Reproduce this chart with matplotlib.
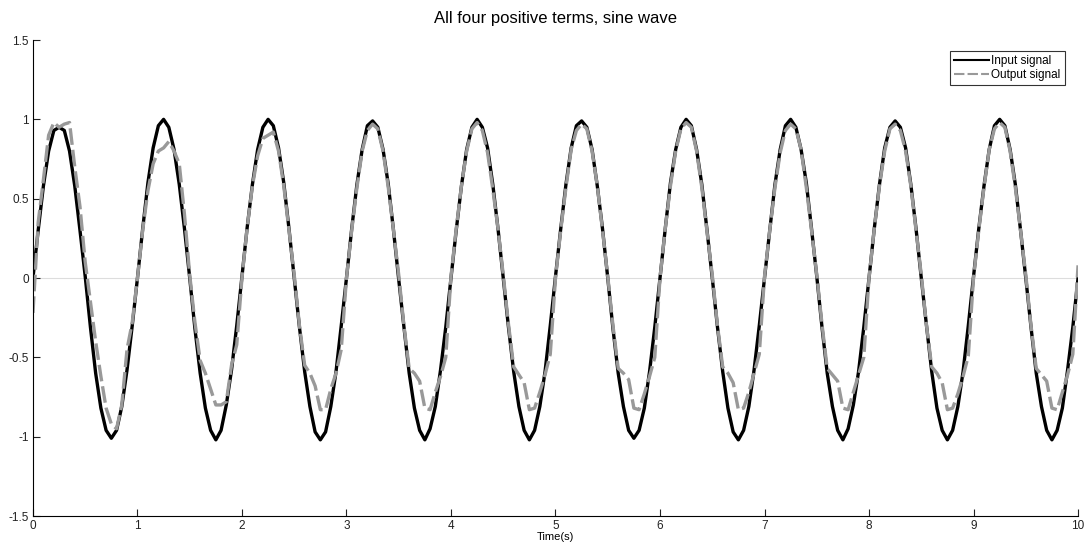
import numpy as np
import matplotlib
matplotlib.use("Agg")
import matplotlib.pyplot as plt

plt.rcParams['font.family'] = ['Liberation Sans', 'DejaVu Sans']

# sample times, 0.05 s apart (20 samples per 1 s cycle)
t = np.linspace(0, 10, 201)

# input signal, read per cycle
input_signal = [
    0.00, 0.30, 0.58, 0.80, 0.93, 0.95, 0.93, 0.80, 0.58, 0.30, 0.01, -0.31, -0.60, -0.82, -0.96, -1.01, -0.96, -0.81, -0.58, -0.30,
    0.00, 0.31, 0.60, 0.82, 0.96, 1.00, 0.95, 0.81, 0.59, 0.31, 0.00, -0.32, -0.60, -0.82, -0.96, -1.02, -0.96, -0.80, -0.58, -0.30,
    0.01, 0.32, 0.59, 0.81, 0.95, 1.00, 0.96, 0.82, 0.60, 0.31, 0.00, -0.31, -0.59, -0.81, -0.97, -1.02, -0.97, -0.81, -0.59, -0.30,
    0.00, 0.31, 0.59, 0.81, 0.96, 0.99, 0.95, 0.81, 0.59, 0.30, -0.01, -0.31, -0.60, -0.82, -0.96, -1.02, -0.95, -0.81, -0.58, -0.31,
    0.00, 0.30, 0.58, 0.81, 0.95, 1.00, 0.95, 0.82, 0.59, 0.31, 0.00, -0.31, -0.59, -0.81, -0.96, -1.02, -0.96, -0.81, -0.59, -0.30,
    0.01, 0.31, 0.59, 0.82, 0.96, 0.99, 0.95, 0.81, 0.58, 0.31, 0.00, -0.32, -0.60, -0.81, -0.96, -1.01, -0.96, -0.82, -0.59, -0.31,
    0.00, 0.31, 0.60, 0.81, 0.95, 1.00, 0.96, 0.81, 0.59, 0.30, 0.00, -0.31, -0.59, -0.82, -0.97, -1.02, -0.96, -0.81, -0.58, -0.30,
    0.00, 0.30, 0.59, 0.81, 0.96, 1.00, 0.95, 0.81, 0.60, 0.31, 0.01, -0.31, -0.60, -0.81, -0.96, -1.02, -0.95, -0.80, -0.59, -0.31,
    0.00, 0.31, 0.59, 0.82, 0.95, 0.99, 0.95, 0.82, 0.59, 0.31, 0.00, -0.30, -0.59, -0.82, -0.96, -1.02, -0.96, -0.81, -0.59, -0.30,
    0.01, 0.31, 0.58, 0.81, 0.96, 1.00, 0.96, 0.81, 0.59, 0.30, 0.00, -0.31, -0.60, -0.81, -0.96, -1.02, -0.96, -0.82, -0.58, -0.31,
    0.00,
]

# output signal, read per cycle
output_signal = [
    -0.22, 0.35, 0.62, 0.90, 0.98, 0.95, 0.97, 0.98, 0.70, 0.45, 0.10, -0.15, -0.40, -0.62, -0.82, -0.92, -0.95, -0.80, -0.45, -0.28,
    0.00, 0.30, 0.55, 0.72, 0.80, 0.82, 0.86, 0.80, 0.72, 0.40, 0.02, -0.28, -0.52, -0.60, -0.70, -0.80, -0.80, -0.78, -0.55, -0.42,
    0.00, 0.32, 0.58, 0.77, 0.88, 0.90, 0.92, 0.80, 0.58, 0.30, 0.02, -0.30, -0.55, -0.60, -0.68, -0.83, -0.83, -0.70, -0.60, -0.45,
    0.00, 0.30, 0.57, 0.80, 0.93, 0.97, 0.94, 0.80, 0.57, 0.30, 0.02, -0.30, -0.57, -0.60, -0.65, -0.82, -0.83, -0.72, -0.62, -0.50,
    0.01, 0.31, 0.58, 0.80, 0.94, 0.98, 0.93, 0.79, 0.56, 0.31, 0.02, -0.29, -0.56, -0.61, -0.66, -0.83, -0.82, -0.72, -0.61, -0.48,
    0.00, 0.30, 0.57, 0.81, 0.93, 0.97, 0.94, 0.80, 0.58, 0.30, 0.01, -0.30, -0.57, -0.60, -0.64, -0.82, -0.83, -0.73, -0.62, -0.50,
    0.00, 0.31, 0.58, 0.80, 0.94, 0.98, 0.95, 0.80, 0.57, 0.29, 0.02, -0.30, -0.56, -0.60, -0.66, -0.83, -0.82, -0.72, -0.60, -0.48,
    0.01, 0.30, 0.57, 0.79, 0.93, 0.97, 0.94, 0.81, 0.57, 0.30, 0.02, -0.29, -0.57, -0.61, -0.65, -0.82, -0.83, -0.72, -0.61, -0.50,
    0.00, 0.31, 0.58, 0.80, 0.94, 0.97, 0.93, 0.80, 0.58, 0.30, 0.02, -0.30, -0.56, -0.60, -0.66, -0.83, -0.82, -0.73, -0.62, -0.49,
    0.00, 0.30, 0.57, 0.81, 0.94, 0.98, 0.95, 0.80, 0.57, 0.30, 0.02, -0.30, -0.57, -0.61, -0.65, -0.82, -0.83, -0.72, -0.61, -0.48,
    0.08,
]

x_ticks = [0, 1, 2, 3, 4, 5, 6, 7, 8, 9, 10]
y_ticks = [-1.5, -1, -0.5, 0, 0.5, 1, 1.5]
y_tick_labels = ['-1.5', '-1', '-0.5', '0', '0.5', '1', '1.5']

fig = plt.figure(figsize=(10.84, 5.49), dpi=100)
ax = fig.add_axes([0.0304, 0.0601, 0.9641, 0.8670])

ax.axhline(0, color='#dddddd', lw=0.8, zorder=0)
ax.plot(t, input_signal, color='black', lw=2.4, label='Input signal')
ax.plot(t, output_signal, color='#999999', lw=2.4, dashes=(5, 1.5), label='Output signal')

ax.set_xlim(0, 10)
ax.set_ylim(-1.5, 1.5)
ax.set_xticks(x_ticks)
ax.set_yticks(y_ticks)
ax.set_yticklabels(y_tick_labels)
ax.spines['top'].set_visible(False)
ax.spines['right'].set_visible(False)
ax.tick_params(direction='in', length=5, labelsize=8.5, colors='#222222', pad=3)
ax.set_xlabel('Time(s)', fontsize=8, labelpad=0)
ax.set_title('All four positive terms, sine wave', fontsize=12, pad=12)

leg = ax.legend(loc='upper right', fontsize=8.5, frameon=True, fancybox=False,
                handlelength=3.0, handletextpad=0.2, borderpad=0.35, labelspacing=0.2,
                bbox_to_anchor=(0.993, 0.99))
leg.get_frame().set_edgecolor('black')
leg.get_frame().set_linewidth(0.8)
for line in leg.get_lines():
    line.set_linewidth(1.5)

fig.savefig('out.png', dpi=100)
